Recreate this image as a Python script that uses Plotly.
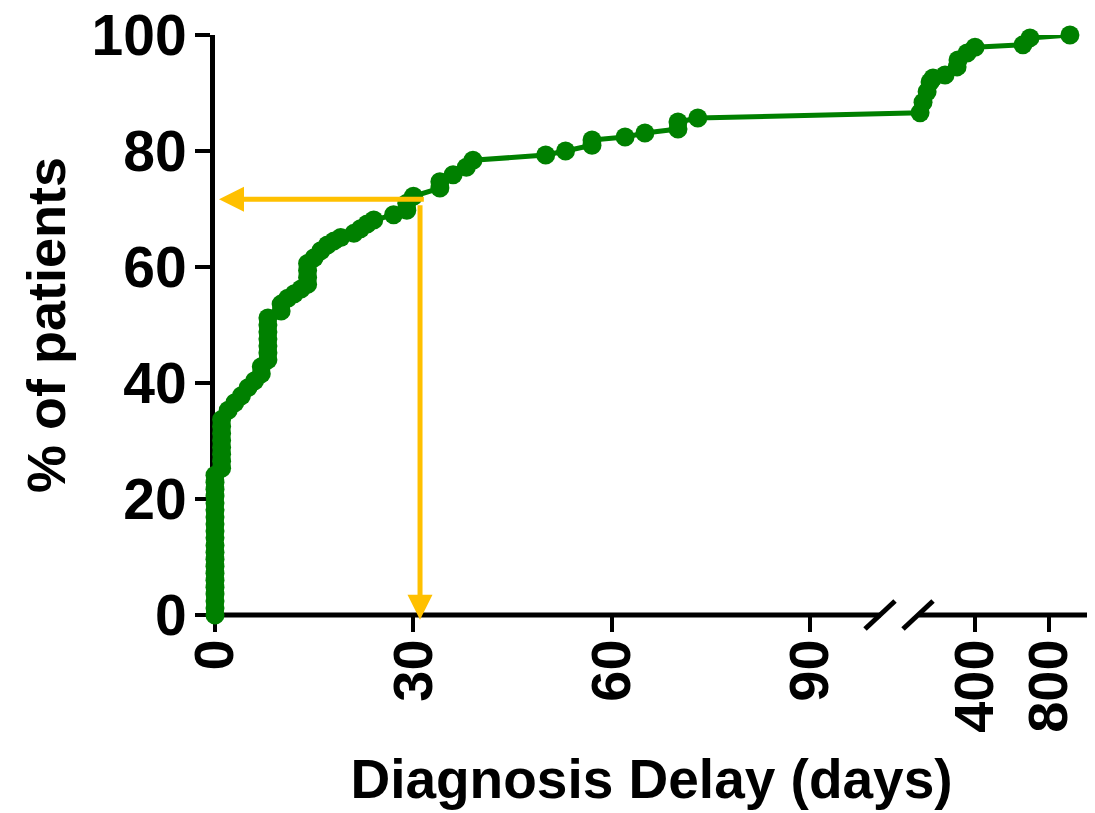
import plotly.graph_objects as go

# ---- data (days, cumulative % of patients) ----
days = [0]*21 + [1]*8 + [2, 3, 4, 5, 6, 7, 7] + [8]*7 + [10, 10, 11, 12, 13] + [14]*4 + \
       [15, 16, 17, 18, 19, 21, 22, 23, 24, 27, 29, 29, 30, 34, 34, 36, 38, 39, 50, 53, 57, 57,
        62, 65, 70, 70, 73,
        103, 119, 141, 157, 173, 238, 303, 308, 357, 400, 659, 697, 913]
pct = [0, 1.2, 2.4, 3.6, 4.8, 6.0, 7.2, 8.4, 9.6, 10.8, 12.0, 13.3, 14.5, 15.7, 16.9, 18.1,
       19.3, 20.5, 21.7, 22.9, 24.1,
       25.3, 26.5, 27.7, 28.9, 30.1, 31.3, 32.5, 33.7,
       35.3, 36.6, 37.8, 39.2, 40.4, 41.6, 42.8,
       44.0, 45.2, 46.4, 47.6, 48.8, 50.0, 51.2,
       52.4, 53.6, 54.6, 55.4, 56.2,
       57.0, 58.2, 59.4, 60.6,
       61.6, 62.8, 63.8, 64.5, 65.1, 65.8, 66.6, 67.4, 68.1, 69.0, 69.8, 71.0, 72.2,
       73.6, 74.7, 75.9, 77.2, 78.4, 79.3, 80.0, 81.0, 81.9,
       82.4, 83.1, 83.8, 85.0, 85.7,
       86.6, 88.4, 90.2, 91.9, 92.6, 93.1, 94.5, 95.7, 96.9, 97.9, 98.3, 99.5, 100]

tick_days = [0, 30, 60, 90, 400, 800]
tick_text = ["0", "30", "60", "90", "400", "800"]
y_ticks = [0, 20, 40, 60, 80, 100]

arrow_day = 31
arrow_pct = 71.7

# ---- broken x axis: linear 0-100, gap, linear 100-1000 (compressed) ----
BREAK = 100
GAP = 6.52
K = 0.02797


def xt(d):
    return d if d <= BREAK else BREAK + GAP + (d - BREAK) * K


GREEN = "#008000"
GOLD = "#FFC000"
FONT = "Liberation Sans, Arial, sans-serif"

# page body has an 8px margin -> figure drawn at (8, 8)
OFF = 8
FIG_W, FIG_H = 1095 - OFF, 813 - OFF
# pixel layout of the plotting area (page coords)
L, R, T, B = 215, 1088, 35, 615
W, H = R - L, B - T

fig = go.Figure()

# broken x-axis line (two pieces) and break marks
for x0p, x1p in ((L - 2, 881), (919, R)):
    fig.add_shape(type="line", xref="paper", yref="paper", layer="below",
                  x0=(x0p - L) / W, x1=(x1p - L) / W, y0=0, y1=0,
                  line=dict(color="black", width=5))
for cx in (880, 918):
    fig.add_shape(type="line", xref="paper", yref="paper", layer="below",
                  x0=(cx - 15 - L) / W, y0=-14 / H,
                  x1=(cx + 15 - L) / W, y1=14 / H,
                  line=dict(color="black", width=5))

fig.add_trace(go.Scatter(
    x=[xt(d) for d in days], y=pct,
    mode="lines+markers",
    line=dict(color=GREEN, width=5),
    marker=dict(color=GREEN, size=19, line=dict(width=0)),
    cliponaxis=False,
    showlegend=False,
    hoverinfo="skip",
))

# arrows (30 days -> ~72 %)
fig.add_annotation(x=0, y=arrow_pct, ax=xt(arrow_day) + 0.8, ay=arrow_pct,
                   xref="x", yref="y", axref="x", ayref="y",
                   showarrow=True, arrowhead=2, arrowsize=1.0, arrowwidth=5,
                   arrowcolor=GOLD, standoff=4, text="")
fig.add_annotation(x=xt(arrow_day), y=-0.8, ax=xt(arrow_day), ay=arrow_pct - 0.8,
                   xref="x", yref="y", axref="x", ayref="y",
                   showarrow=True, arrowhead=2, arrowsize=1.0, arrowwidth=5,
                   arrowcolor=GOLD, standoff=0, text="")

fig.update_layout(
    width=FIG_W, height=FIG_H,
    margin=dict(l=L - OFF, r=1095 - R, t=T - OFF, b=813 - B),
    paper_bgcolor="white", plot_bgcolor="white",
    font=dict(family=FONT, color="black"),
    xaxis=dict(
        range=[0, (R - L) / 6.614],
        tickmode="array",
        tickvals=[xt(d) for d in tick_days],
        ticktext=tick_text,
        tickangle=-90,
        ticks="outside", ticklen=16, tickwidth=4, tickcolor="black",
        ticklabelstandoff=-15,
        ticklabeloverflow="allow",
        showline=False,
        showgrid=False, zeroline=False,
        automargin=False,
        layer="below traces",
        tickfont=dict(size=56, family=FONT, weight="bold"),
        title=dict(text="Diagnosis Delay (days)", standoff=27,
                   font=dict(size=55, family=FONT, weight="bold")),
    ),
    yaxis=dict(
        range=[0, 100],
        tickvals=y_ticks,
        ticks="outside", ticklen=15, tickwidth=4, tickcolor="black",
        ticklabelstandoff=-3,
        ticklabeloverflow="allow",
        showline=True, linewidth=5, linecolor="black",
        showgrid=False, zeroline=False,
        automargin=False,
        layer="below traces",
        tickfont=dict(size=57, family=FONT, weight="bold"),
        title=dict(text="% of patients", standoff=10,
                   font=dict(size=54, family=FONT, weight="bold")),
    ),
)

fig.write_html("out.html")
